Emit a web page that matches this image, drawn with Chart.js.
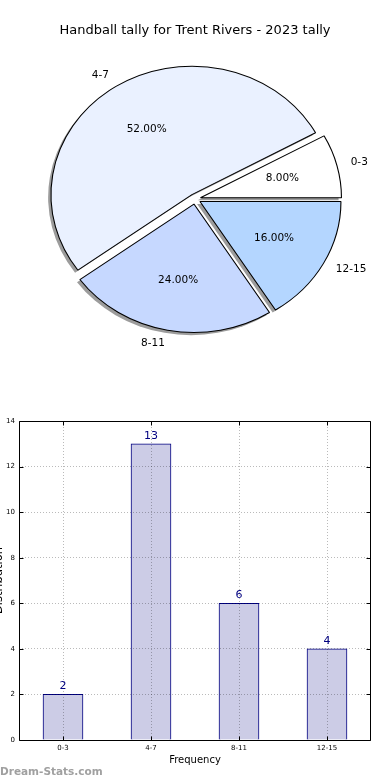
<!DOCTYPE html>
<html><head><meta charset="utf-8">
<script src="https://cdn.jsdelivr.net/npm/chart.js@4.4.1/dist/chart.umd.min.js"></script>
<style>
html,body{margin:0;padding:0;background:#fff;width:390px;height:780px;overflow:hidden;}
canvas{position:absolute;left:0;}
#pie{top:0;}
#bar{top:400px;}
</style></head><body>
<canvas id="pie" width="390" height="400"></canvas>
<canvas id="bar" width="390" height="380"></canvas>
<script>
// ---- data ----
const chartTitle = 'Handball tally for Trent Rivers - 2023 tally';
const categories = ['0-3', '4-7', '8-11', '12-15'];
const tallies = [2, 13, 6, 4];
const sliceColors = ['#ffffff', '#eaf1ff', '#c6d8ff', '#b4d6ff'];
const explodeFractions = [0.04, 0.04, 0.04, 0.04];
const yTickMin = 0, yTickMax = 14, yTickStep = 2;
const xAxisTitle = 'Frequency';
const yAxisTitle = 'Distribution';
const watermark = 'Dream-Stats.com';

const FONT = "'DejaVu Sans', 'Liberation Sans', sans-serif";
Chart.defaults.font.family = FONT;
Chart.defaults.color = '#000';

// ---- pie (matplotlib-style: counter-clockwise from 3 o'clock) ----
const pieLabels = categories.slice().reverse();
const pieValues = tallies.slice().reverse();
const pieColors = sliceColors.slice().reverse();
const pieExplode = explodeFractions.slice().reverse();
const total = tallies.reduce((s, v) => s + v, 0);

const R = 128.5;          // vertical radius
const SX = 141 / 128.5;   // horizontal stretch (axes not equal aspect)

const pieFx = {
  id: 'pieFx',
  afterDatasetUpdate(chart, args) {
    args.meta.data.forEach((el, i) => {
      const mid = (el.startAngle + el.endAngle) / 2;
      const d = pieExplode[i] * el.outerRadius;
      el.x += Math.cos(mid) * d;
      el.y += Math.sin(mid) * d;
    });
  },
  beforeDatasetsDraw(chart) {
    const ctx = chart.ctx, a = chart.chartArea;
    const cx = (a.left + a.right) / 2;
    ctx.save();
    ctx.translate(cx, 0); ctx.scale(SX, 1); ctx.translate(-cx, 0);
    ctx.fillStyle = '#9c9c9c';
    const meta = chart.getDatasetMeta(0);
    const ox = -2.6, oy = 2.6;
    meta.data.forEach(el => {
      ctx.beginPath();
      ctx.moveTo(el.x + ox, el.y + oy);
      ctx.arc(el.x + ox, el.y + oy, el.outerRadius, el.startAngle, el.endAngle);
      ctx.closePath();
      ctx.fill();
    });
  },
  afterDatasetsDraw(chart) {
    chart.ctx.restore();
  },
  afterDraw(chart) {
    const ctx = chart.ctx, a = chart.chartArea;
    const cx = (a.left + a.right) / 2;
    ctx.save();
    ctx.fillStyle = '#000';
    ctx.font = '13px ' + FONT;
    ctx.textAlign = 'center';
    ctx.textBaseline = 'alphabetic';
    ctx.fillText(chartTitle, 195, 34);
    const meta = chart.getDatasetMeta(0);
    ctx.font = '10.5px ' + FONT;
    ctx.textBaseline = 'middle';
    meta.data.forEach((el, i) => {
      const mid = (el.startAngle + el.endAngle) / 2;
      const ux = Math.cos(mid), uy = Math.sin(mid);
      const r = el.outerRadius;
      const lx = cx + (el.x + ux * 1.1 * r - cx) * SX;
      const ly = el.y + uy * 1.1 * r;
      ctx.textAlign = ux > 0 ? 'left' : 'right';
      ctx.fillText(pieLabels[i], lx, ly);
      const px = cx + (el.x + ux * 0.6 * r - cx) * SX;
      const py = el.y + uy * 0.6 * r;
      ctx.textAlign = 'center';
      ctx.fillText((pieValues[i] / total * 100).toFixed(2) + '%', px, py);
    });
    ctx.restore();
  }
};

new Chart(document.getElementById('pie'), {
  type: 'pie',
  data: {
    labels: pieLabels,
    datasets: [{
      data: pieValues,
      backgroundColor: pieColors,
      borderColor: '#000',
      borderWidth: 1
    }]
  },
  options: {
    responsive: false,
    animation: false,
    devicePixelRatio: 1,
    events: [],
    rotation: 90,
    radius: R,
    layout: { padding: { top: 40, bottom: 42, left: 0, right: 0 } },
    plugins: { legend: { display: false }, title: { display: false }, tooltip: { enabled: false } }
  },
  plugins: [pieFx]
});

// ---- bar chart ----
const barFx = {
  id: 'barFx',
  afterDraw(chart) {
    const { ctx, chartArea: a, scales: { x, y } } = chart;
    ctx.save();
    ctx.strokeStyle = '#000';
    ctx.lineWidth = 1;
    const L = Math.round(a.left) + 0.5, T = Math.round(a.top) + 0.5;
    const Rr = Math.round(a.right) - 0.5, B = Math.round(a.bottom) + 0.5;
    ctx.beginPath();
    ctx.rect(L, T, Rr - L, B - T);
    ctx.stroke();
    ctx.beginPath();
    y.ticks.forEach((t, i) => {
      const py = Math.round(y.getPixelForTick(i)) + 0.5;
      ctx.moveTo(L, py); ctx.lineTo(L + 4, py);
      ctx.moveTo(Rr - 4, py); ctx.lineTo(Rr, py);
    });
    x.ticks.forEach((t, i) => {
      const px = Math.round(x.getPixelForTick(i)) + 0.5;
      ctx.moveTo(px, B); ctx.lineTo(px, B - 4);
      ctx.moveTo(px, T); ctx.lineTo(px, T + 4);
    });
    ctx.stroke();

    const meta = chart.getDatasetMeta(0);
    ctx.fillStyle = '#000080';
    ctx.font = '11px ' + FONT;
    ctx.textAlign = 'center';
    ctx.textBaseline = 'middle';
    meta.data.forEach((el, i) => ctx.fillText(String(tallies[i]), el.x, el.y - 8));

    ctx.save();
    ctx.fillStyle = '#000';
    ctx.translate(1.5, (a.top + a.bottom) / 2);
    ctx.rotate(-Math.PI / 2);
    ctx.textBaseline = 'alphabetic';
    ctx.font = '11.5px ' + FONT;
    ctx.fillText(yAxisTitle, 0, 0);
    ctx.restore();

    ctx.fillStyle = '#a0a0a0';
    ctx.font = 'bold 10.5px ' + FONT;
    ctx.textAlign = 'left';
    ctx.textBaseline = 'alphabetic';
    ctx.fillText(watermark, 0, 375);
    ctx.restore();
  }
};

const gridColor = 'rgba(0,0,0,0.27)';
new Chart(document.getElementById('bar'), {
  type: 'bar',
  data: {
    labels: categories,
    datasets: [{
      data: tallies,
      backgroundColor: '#ccccE6',
      borderColor: '#000080',
      borderWidth: 1,
      barThickness: 40
    }]
  },
  options: {
    responsive: false,
    animation: false,
    devicePixelRatio: 1,
    events: [],
    layout: { padding: { top: 21, right: 19, left: 0, bottom: 0 } },
    plugins: { legend: { display: false }, tooltip: { enabled: false } },
    scales: {
      x: {
        offset: true,
        grid: { offset: false, z: 1, drawTicks: false, color: gridColor, lineWidth: 1 },
        border: { display: false, dash: [1, 2] },
        ticks: { font: { size: 7 }, color: '#000', padding: 4, maxRotation: 0 },
        title: { display: true, text: xAxisTitle, font: { size: 10 }, color: '#000', padding: { top: 0, bottom: 14 } },
        afterFit: s => { s.height = 40; }
      },
      y: {
        min: yTickMin, max: yTickMax,
        ticks: { stepSize: yTickStep, font: { size: 7 }, color: '#000', padding: 4 },
        grid: { z: 1, drawTicks: false, color: gridColor, lineWidth: 1 },
        border: { display: false, dash: [1, 2] },
        afterFit: s => { s.width = 19; }
      }
    }
  },
  plugins: [barFx]
});
</script>
</body></html>
